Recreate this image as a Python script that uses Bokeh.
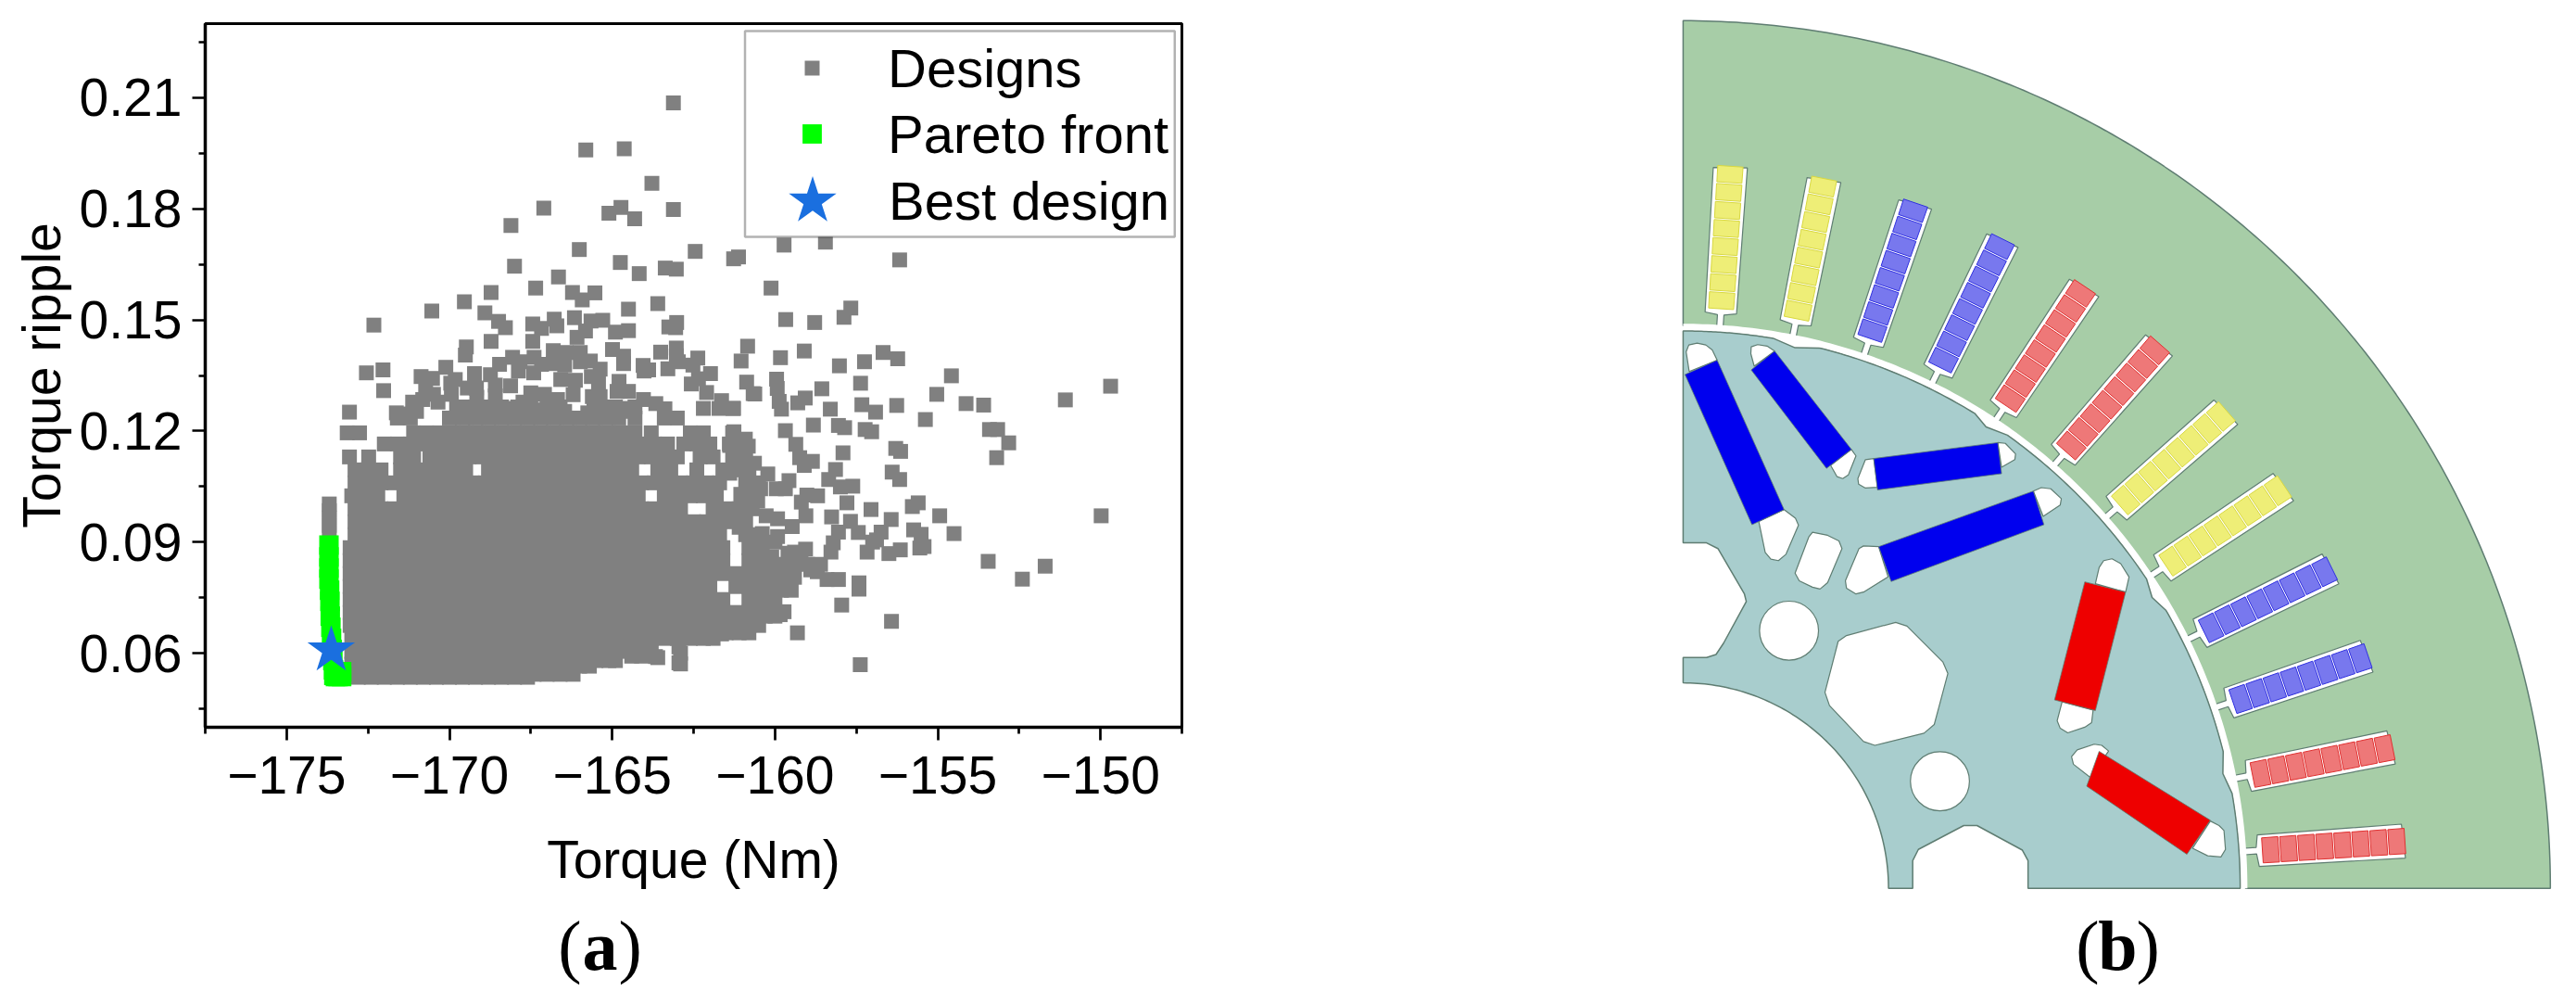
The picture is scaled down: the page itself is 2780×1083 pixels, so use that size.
from bokeh.plotting import figure
from bokeh.models import (Range1d, FixedTicker, Legend, LegendItem, BoxAnnotation, Label)
from bokeh.layouts import row, column
from bokeh.embed import file_html
from bokeh.resources import INLINE
import numpy as np

# ---------------- panel (a): values ----------------
sparse_torque = [-163.12,-165.81,-164.63,-163.78,-167.10,-165.10,-164.73,-164.31,-163.12,-168.11,-166.01,-164.75,-168.00,-162.45,-164.17,-163.37,-163.03,-161.27,-161.12,-166.65,-167.35,-168.72,-169.54,-170.54,-172.32,-166.22,-165.53,-165.92,-168.91,-168.49,-168.28,-167.44,-166.78,-166.70,-167.17,-166.16,-165.65,-165.29,-164.50,-163.60,-163.02,-163.26,-163.05,-164.90,-164.50,-165.82,-166.08,-167.44,-168.72,-169.48,-169.51,-160.84,-161.04,-164.99,-163.51,-163.03,-163.03,-164.65,-164.65,-162.37,-162.97,-162.52,-164.05,-163.88,-164.02,-163.29,-161.98,-162.35,-162.57,-160.87,-160.67,-162.10,-161.64,-162.2,-161.27,-161.72,-164.79,-164.85,-164.50,-164.04,-163.66,-163.38,-164.61,
 -168.06,-167.40,-168.46,-167.83,-167.17,-166.81,-166.81,-166.41,-165.98,-166.46,-165.98,-165.67,-165.37,-167.88,-167.41,-166.58,-166.13,-165.64,-165.42,-170.11,-170.87,-170.52,-169.23,-168.74,-169.96,-169.82,-169.45,-169.17,-168.59,-168.12,-170.73,-170.49,-169.94,-171.13,-170.82,-170.35,-169.16,-168.59,-167.50,-167.08,-167.74,-166.68,-166.20,-165.61,-165.37,-165.56,-171.63,-171.34,-171.01,-169.78,-169.26,-168.59,-168.03,-167.36,-166.46,-165.75,-164.61,-172.02,-172.04,-172.55,-173.07]
sparse_ripple = [.2086,.1959,.1962,.1869,.1802,.1788,.1804,.1773,.1798,.1755,.1690,.1655,.1645,.1685,.1625,.1640,.1637,.1665,.1670,.1616,.1586,.1574,.1549,.1524,.1486,.1574,.1573,.1554,.1519,.1496,.1479,.1489,.1502,.1484,.1477,.1506,.1497,.1499,.1529,.1544,.1493,.1481,.1479,.1467,.1471,.1470,.1453,.1442,.1442,.1427,.1405,.1429,.1389,.1420,.1413,.1424,.1403,.1402,.1382,.1397,.1387,.1378,.1377,.1365,.1362,.1368,.1355,.1341,.1327,.1332,.1301,.1304,.1282,.1261,.1261,.1261,.1334,.1307,.1307,.1285,.1274,.1260,.1261,
 .1399,.1399,.1380,.1387,.1380,.1417,.1382,.1412,.1412,.1378,.1387,.1389,.1367,.1362,.1357,.1339,.1337,.1347,.1332,.1372,.1347,.1342,.1355,.1352,.1329,.1339,.1316,.1316,.1324,.1322,.1316,.1299,.1299,.1278,.1285,.1278,.1291,.1295,.1303,.1299,.1278,.1285,.1298,.1293,.1293,.1270,.1249,.1246,.1253,.1261,.1261,.1253,.1261,.1257,.1253,.1249,.1253,.1309,.1365,.1357,.1251]

right_torque = [-159.72,-158.45,-156.17,-160.12,-159.67,-158.78,-157.67,-157.88,-159.10,-159.83,-158.02,-157.25,-156.68,-156.23,-154.58,-157.37,-159.95,-159.93,-160.62,-158.56,-159.07,-159.30,-159.87,-159.80,-158.30,-157.33,-156.91,-156.26,-155.03,-154.13,-153.59,-151.08,-149.69,-155.38,-158.82,-158.05,-157.86,-157.23,-157.03,-159.68,-153.41,-153.16,-152.82,-153.19,-156.29,-156.14,-157.91,-159.36,-159.24,-158.85,-159.10,-158.14,-156.40,-156.17,-158.35,-157.99,-157.61,-161.26,-160.91,-160.82,-161.29,-161.39,-160.63,-161.29,-161.39,-160.82,-160.22,-159.57,-160.44,-159.96,-159.68,-161.05,-160.53,-159.02,-158.69,-159.19,-157.79,-157.05,-155.78,-155.60,-154.94,-149.98,-158.26,-159.05,-157.68,-156.43,-160.27,-159.92,-159.47,-161.10,-161.10,-158.05,-157.44,-156.74,-156.88,-155.74,-155.51,-154.50,-155.42,-155.55,-160.39,-160.39,-159.92,-158.21,-159.06,-159.40,-157.17,-156.15,-156.50,-158.28,-153.45,
 -151.70,-152.40,-157.95,-157.42,-157.42,-156.42,-159.31,-157.38,-157.0,-158.4,-158.05,-158.9,-159.36,-159.6,-159.72,-159.84,-160.3,-160.56,-161.16,-161.64,-162.2,-162.95,-162.95,-163.67,-160.1,-160.2,-159.9,-160.5,-160.0,-159.6,-160.7,-160.4,-160.1,-159.2,-158.7]
right_ripple = [.1702,.1710,.1662,.1586,.1501,.1493,.1532,.1507,.1416,.1398,.1376,.1387,.1412,.1395,.1349,.1329,.1340,.1315,.1300,.1314,.1289,.1276,.1280,.1259,.1259,.1271,.1251,.1269,.1299,.1274,.1270,.1284,.1321,.1231,.1216,.1215,.1209,.1204,.1198,.1201,.1204,.1204,.1168,.1128,.1153,.1145,.1141,.1164,.1128,.1118,.1107,.1096,.1089,.1069,.1069,.1049,.1051,.1198,.1178,.1159,.1261,.1161,.1113,.1119,.1086,.1086,.1084,.1066,.1044,.1044,.1044,.1029,.1011,.1027,.1025,.1008,.1006,.0988,.0996,.1006,.0971,.0971,.0968,.0971,.0956,.0961,.0971,.0963,.0942,.0969,.0940,.0927,.0926,.0927,.0906,.0933,.0921,.0923,.0888,.0884,.0923,.0894,.0915,.0898,.0881,.0873,.0873,.0879,.0869,.0873,.0848,
 .0835,.0800,.0730,.0773,.0790,.0686,.0655,.0569,.0900,.0799,.0799,.0825,.0842,.0790,.0712,.0704,.0755,.0729,.0678,.0652,.0660,.0574,.0617,.0591,.0860,.0810,.0780,.0840,.0900,.0870,.0780,.0745,.0720,.0860,.0820]

tail_torque = [-160.2,-159.8,-159.4,-159.0,-158.6,-160.2,-159.8,-159.4,-160.2,-159.8,-159.5,-160.3,-160.0,-160.3,-160.0]
tail_ripple = [.0840,.0840,.0840,.0840,.0840,.0805,.0805,.0805,.0770,.0770,.0770,.0735,.0735,.0700,.0700]

stalk_torque = [-173.69,-173.69,-173.69,-173.69,-173.69]
stalk_ripple = [.1003,.0985,.0965,.0945,.0925]

edge_torque = [-169.0,-168.6,-168.2,-167.8,-167.4,-167.0,-166.6,-166.2,-167.2,-166.8,-166.4,-166.0,-165.7,-165.5,-165.1,-164.9,-164.4,-164.1,-163.6,-162.9,-162.9]
edge_ripple = [.0543,.0543,.0543,.0543,.0543,.0543,.0543,.0543,.0550,.0550,.0550,.0565,.0565,.0580,.0580,.0580,.0592,.0592,.0588,.0571,.0600]

row_0535 = [-172.8,-172.4,-172.0,-171.6,-171.2,-170.8,-170.4,-170.0,-169.6,-169.2,-168.8,-168.4,-168.0,-167.6]
row_0570 = [-173.0,-172.6,-172.2,-171.8,-171.4,-171.0,-170.6,-170.2,-169.8,-169.4,-169.0,-168.6,-168.2,-167.8,-167.4,-167.0,-166.6,-166.2,-165.9]
row_0605 = [-173.0,-172.6,-172.2,-171.8,-171.4,-171.0,-170.6,-170.2,-169.8,-169.4,-169.0,-168.6,-168.2,-167.8,-167.4,-167.0,-166.6,-166.2,-165.8,-165.4,-165.0,-164.6,-164.2,-163.8]
row_0640 = [-173.0,-172.6,-172.2,-171.8,-171.4,-171.0,-170.6,-170.2,-169.8,-169.4,-169.0,-168.6,-168.2,-167.8,-167.4,-167.0,-166.6,-166.2,-165.8,-165.4,-165.0,-164.6,-164.2,-163.8,-163.4,-163.0,-162.6,-162.2,-161.9]
row_0655 = [-161.5,-161.1,-160.8]
row_0675 = [-173.05,-172.8,-172.4,-172.0,-171.6,-171.2,-170.8,-170.4,-170.0,-169.6,-169.2,-168.8,-168.4,-168.0,-167.6,-167.2,-166.8,-166.4,-166.0,-165.6,-165.2,-164.8,-164.4,-164.0,-163.6,-163.2,-162.8,-162.4,-162.0,-161.6,-161.2,-160.8,-160.5]
row_0710 = [-173.05,-172.8,-172.4,-172.0,-171.6,-171.2,-170.8,-170.4,-170.0,-169.6,-169.2,-168.8,-168.4,-168.0,-167.6,-167.2,-166.8,-166.4,-166.0,-165.6,-165.2,-164.8,-164.4,-164.0,-163.6,-163.2,-162.8,-162.4,-162.0,-161.6,-161.2,-160.8,-160.5]
row_0745 = [-173.05,-172.8,-172.4,-172.0,-171.6,-171.2,-170.8,-170.4,-170.0,-169.6,-169.2,-168.8,-168.4,-168.0,-167.6,-167.2,-166.8,-166.4,-166.0,-165.6,-165.2,-164.8,-164.4,-164.0,-163.6,-163.2,-162.8,-162.4,-162.0,-161.6,-160.8,-160.5]
row_0780 = [-173.05,-172.8,-172.4,-172.0,-171.6,-171.2,-170.8,-170.4,-170.0,-169.6,-169.2,-168.8,-168.4,-168.0,-167.6,-167.2,-166.8,-166.4,-166.0,-165.6,-165.2,-164.8,-164.4,-164.0,-163.6,-163.2,-162.8,-162.4,-162.0,-161.2,-160.8,-160.5]
row_0815 = [-173.05,-172.8,-172.4,-172.0,-171.6,-171.2,-170.8,-170.4,-170.0,-169.6,-169.2,-168.8,-168.4,-168.0,-167.6,-167.2,-166.8,-166.4,-166.0,-165.6,-165.2,-164.8,-164.4,-164.0,-163.6,-163.2,-162.8,-162.4,-162.0,-161.6,-161.2,-160.8,-160.5]
row_0850 = [-173.05,-172.8,-172.4,-172.0,-171.6,-171.2,-170.8,-170.4,-170.0,-169.6,-169.2,-168.8,-168.4,-168.0,-167.6,-167.2,-166.8,-166.4,-166.0,-165.6,-165.2,-164.8,-164.4,-164.0,-163.6,-163.2,-162.8,-162.4,-162.0,-161.6,-160.8,-160.5]
row_0885 = [-173.05,-172.8,-172.4,-172.0,-171.6,-171.2,-170.8,-170.4,-170.0,-169.6,-169.2,-168.8,-168.4,-168.0,-167.6,-167.2,-166.8,-166.4,-166.0,-165.6,-165.2,-164.8,-164.4,-164.0,-163.6,-163.2,-162.8,-162.4,-162.0,-161.6,-160.8,-160.5]
row_0920 = [-172.9,-172.5,-172.1,-171.7,-171.3,-170.9,-170.5,-170.1,-169.7,-169.3,-168.9,-168.5,-168.1,-167.7,-167.3,-166.9,-166.5,-166.1,-165.7,-165.3,-164.9,-164.5,-164.1,-163.7,-163.3,-162.9,-162.5,-162.1,-161.7,-160.9,-160.5]
row_0955 = [-172.9,-172.5,-172.1,-171.7,-171.3,-170.9,-170.5,-170.1,-169.7,-169.3,-168.9,-168.5,-168.1,-167.7,-167.3,-166.9,-166.5,-166.1,-165.7,-165.3,-164.9,-164.5,-164.1,-163.7,-163.3,-162.9,-162.5,-162.1,-161.7,-161.3,-160.9]
row_0990 = [-172.9,-172.5,-172.1,-171.7,-171.3,-170.9,-170.5,-170.1,-169.7,-169.3,-168.9,-168.5,-168.1,-167.7,-167.3,-166.9,-166.5,-166.1,-165.7,-165.3,-164.9,-164.5,-164.1,-163.7,-163.3,-162.9,-161.9,-161.5,-161.1,-160.7]
row_1025 = [-173.0,-172.6,-172.2,-171.4,-171.0,-170.6,-170.2,-169.8,-169.4,-169.0,-168.6,-168.2,-167.8,-167.4,-167.0,-166.6,-166.2,-165.8,-165.4,-165.0,-164.6,-164.2,-163.4,-163.0,-162.6,-162.2,-161.8,-161.0,-160.6]
row_1060 = [-172.9,-172.5,-172.1,-171.7,-171.3,-170.9,-170.5,-170.1,-169.7,-169.3,-168.9,-168.5,-168.1,-167.7,-167.3,-166.9,-166.5,-166.1,-165.7,-165.3,-164.9,-164.5,-164.1,-163.7,-163.3,-162.9,-162.5,-162.1,-161.7,-160.9,-160.5]
row_1095 = [-172.9,-172.5,-172.1,-171.5,-171.1,-170.7,-170.3,-169.9,-169.5,-168.8,-168.4,-168.0,-167.6,-167.2,-166.8,-166.4,-166.0,-165.6,-165.2,-164.8,-164.4,-163.6,-163.2,-162.4,-161.6,-161.2,-160.8]
row_1130 = [-173.07,-172.48,-171.5,-171.1,-170.6,-170.2,-169.8,-169.4,-169.0,-168.6,-168.2,-167.8,-167.4,-167.0,-166.6,-166.2,-165.8,-165.4,-165.0,-164.6,-164.2,-163.8,-163.4,-163.0,-162.3,-161.9,-161.3,-160.9]
row_1165 = [-172.0,-171.6,-171.2,-170.9,-170.5,-170.1,-169.7,-169.3,-168.9,-168.5,-168.1,-167.7,-167.3,-166.9,-166.5,-166.1,-165.7,-165.3,-164.9,-164.5,-164.1,-163.7,-163.3,-162.8,-162.4,-162.0,-161.4,-161.0]
row_1195 = [-173.14,-172.76,-171.1,-170.7,-170.3,-169.9,-169.5,-169.1,-168.7,-168.3,-167.9,-167.5,-167.1,-166.7,-166.3,-165.9,-165.5,-165.1,-164.7,-164.3,-163.8,-162.6,-162.2,-161.3]
row_1235 = [-171.6,-171.2,-170.0,-169.6,-169.2,-168.8,-168.4,-168.0,-167.6,-167.2,-166.8,-166.4,-166.0,-165.6,-165.2,-164.8,-164.3,-163.4,-163.0]
row_1265 = [-169.6,-169.2,-168.8,-168.4,-167.9,-167.5,-167.0,-166.6,-165.3,-164.9,-164.3]

dense_rows = [(.0535,row_0535),(.0570,row_0570),(.0605,row_0605),(.0640,row_0640),(.0655,row_0655),(.0675,row_0675),
              (.0710,row_0710),(.0745,row_0745),(.0780,row_0780),(.0815,row_0815),(.0850,row_0850),(.0885,row_0885),
              (.0920,row_0920),(.0955,row_0955),(.0990,row_0990),(.1025,row_1025),(.1060,row_1060),(.1095,row_1095),
              (.1130,row_1130),(.1165,row_1165),(.1195,row_1195),(.1235,row_1235),(.1265,row_1265)]

pareto_torque = [-173.70,-173.70,-173.70,-173.70,-173.68,-173.67,-173.66,-173.64,-173.62,-173.60,-173.58,-173.56,-173.55,-173.50,-173.42,-173.31,-173.31]
pareto_ripple = [.0892,.0860,.0830,.0800,.0770,.0740,.0700,.0670,.0640,.0610,.0580,.0555,.0540,.0537,.0537,.0537,.0550]
best_torque = [-173.63]
best_ripple = [.0608]

x_major = [-175,-170,-165,-160,-155,-150]
x_minor = [-177.5,-172.5,-167.5,-162.5,-157.5,-152.5,-147.5]
y_major = [.06,.09,.12,.15,.18,.21]
y_minor = [.045,.075,.105,.135,.165,.195,.225]
x_labels = {-175:"\u2212175",-170:"\u2212170",-165:"\u2212165",-160:"\u2212160",-155:"\u2212155",-150:"\u2212150"}
y_labels = {.06:"0.06",.09:"0.09",.12:"0.12",.15:"0.15",.18:"0.18",.21:"0.21"}

GRAY, GREEN, STAR = "#808080", "#00ff00", "#1a6fdf"
SANS = "Liberation Sans"
SERIF = "Liberation Serif"

designs_torque = sparse_torque + right_torque + tail_torque + stalk_torque + edge_torque
designs_ripple = sparse_ripple + right_ripple + tail_ripple + stalk_ripple + edge_ripple
for r_val, torques in dense_rows:
    designs_torque = designs_torque + torques
    designs_ripple = designs_ripple + [r_val]*len(torques)

p = figure(width=1408, height=970, output_backend="svg", toolbar_location=None, frame_align=False,
           x_range=Range1d(-177.5,-147.5), y_range=Range1d(.04,.23),
           min_border_left=221, min_border_top=25, min_border_bottom=186, min_border_right=133,
           background_fill_color="white", border_fill_color="white")
p.grid.visible = False
p.outline_line_color = "black"; p.outline_line_width = 3
rg = p.scatter(designs_torque, designs_ripple, marker="square", size=16, fill_color=GRAY, line_color=None)
rp = p.scatter(pareto_torque, pareto_ripple, marker="square", size=21, fill_color=GREEN, line_color=None)
rs = p.scatter(best_torque, best_ripple, marker="star", size=54, fill_color=STAR, line_color=None)

p.xaxis.ticker = FixedTicker(ticks=x_major, minor_ticks=x_minor)
p.yaxis.ticker = FixedTicker(ticks=y_major, minor_ticks=y_minor)
p.xaxis.major_label_overrides = x_labels
p.yaxis.major_label_overrides = y_labels
p.xaxis.axis_label = "Torque (Nm)"
p.yaxis.axis_label = "Torque ripple"
for ax in (p.xaxis[0], p.yaxis[0]):
    ax.axis_line_color = "black"; ax.axis_line_width = 3.5
    ax.major_tick_line_color = "black"; ax.minor_tick_line_color = "black"
    ax.major_tick_line_width = 2.7; ax.minor_tick_line_width = 2.7
    ax.major_tick_in = 0; ax.major_tick_out = 14
    ax.minor_tick_in = 0; ax.minor_tick_out = 7
    ax.major_label_text_font = SANS; ax.major_label_text_font_size = "57px"; ax.major_label_text_color = "black"
    ax.axis_label_text_font = SANS; ax.axis_label_text_font_size = "57px"
    ax.axis_label_text_font_style = "normal"; ax.axis_label_text_color = "black"
p.yaxis.major_label_orientation = "horizontal"
p.xaxis.major_label_standoff = 17
p.yaxis.major_label_standoff = 11
p.xaxis.axis_label_standoff = 36
p.yaxis.axis_label_standoff = 6

box = BoxAnnotation(left=-160.92, right=-147.72, top=.228, bottom=.1724, fill_color="white", fill_alpha=1,
                    line_color="black", line_width=2.5)
p.add_layout(box)

def key(label, rend, vx, vy, gw, gh, standoff):
    leg = Legend(items=[LegendItem(label=label, renderers=[rend])], location=(vx, vy), glyph_width=gw, glyph_height=gh,
                 padding=0, margin=0, spacing=0, border_line_color=None, background_fill_alpha=0, label_standoff=standoff,
                 label_height=80, label_text_font=SANS, label_text_font_size="58px", label_text_color="black")
    p.add_layout(leg)

key("Designs", rg, 591, 671, 128, 40, 18)
key("Pareto front", rp, 591, 600, 128, 52, 18)
key("Best design", rs, 588, 500, 135, 135, 15)

def paren_label(fig, cx, by, letter):
    fig.add_layout(Label(x=cx-20, y=by, x_units="screen", y_units="screen", text="(", text_font=SERIF, text_font_size="76px", text_align="right", text_color="black"))
    fig.add_layout(Label(x=cx, y=by, x_units="screen", y_units="screen", text=letter, text_font=SERIF, text_font_style="bold", text_font_size="76px", text_align="center", text_color="black"))
    fig.add_layout(Label(x=cx+20, y=by, x_units="screen", y_units="screen", text=")", text_font=SERIF, text_font_size="76px", text_align="left", text_color="black"))

strip = figure(width=1408, height=105, output_backend="svg", toolbar_location=None, frame_align=False,
               x_range=Range1d(0, 1), y_range=Range1d(0, 1), min_border=0, x_axis_type=None, y_axis_type=None,
               outline_line_color=None, background_fill_color="white", border_fill_color="white")
strip.grid.visible = False
paren_label(strip, 647, 14, "a")

# ---------------- panel (b): motor cross-section, sketch units ----------------
CX, CY = 88.0, 1538.0
U = 2.45
R_STATOR_OUT, R_STATOR_IN, R_ROTOR, R_SHAFT = 2293.0, 1487.0, 1473.0, 543.0
STATOR_FILL, ROTOR_FILL, EDGE = "#a7cda7", "#a8cdcd", "#5f7d72"

slot_angles = [3.75,11.25,18.75,26.25,33.75,41.25,48.75,56.25,63.75,71.25,78.75,86.25]
slot_phases = ["y","y","b","b","r","r","y","y","b","b","r","r"]
coil_fill = {"y":"#eeee77","b":"#7878ee","r":"#ee7878"}
coil_edge = {"y":"#d8d840","b":"#3030e0","r":"#e03030"}

magnets_blue = [
    [(93,180),(178,142),(355,537),(270,577)],
    [(268,168),(330,118),(533,378),(467,428)],
    [(592,402),(920,360),(930,442),(602,485)],
    [(605,635),(1014,488),(1042,577),(638,727)],
]
magnets_red = [
    [(1150,728),(1258,755),(1178,1068),(1070,1040)],
    [(1188,1176),(1482,1358),(1420,1448),(1155,1268)],
]
pockets = [
    [(104,172),(178,142),(165,115),(148,102),(125,97),(103,102),(96,120)],
    [(276,158),(330,118),(310,105),(285,101),(268,107),(267,125)],
    [(288,568),(355,537),(385,560),(393,578),(360,655),(340,672),(320,668),(305,650)],
    [(478,420),(533,378),(545,395),(525,445),(510,455),(495,450)],
    [(592,402),(602,478),(570,480),(552,470),(550,455),(570,405)],
    [(920,360),(930,425),(965,405),(967,390),(940,362)],
    [(605,635),(630,715),(565,755),(545,760),(520,745),(517,725),(553,640),(565,633)],
    [(1014,488),(1040,555),(1085,525),(1088,508),(1060,482),(1035,479)],
    [(1178,733),(1258,755),(1267,715),(1245,680),(1222,667),(1200,672),(1188,690)],
    [(1090,1045),(1172,1067),(1168,1100),(1150,1112),(1105,1127),(1085,1115),(1077,1095)],
    [(1213,1175),(1165,1245),(1120,1210),(1115,1190),(1130,1172),(1175,1157),(1195,1160)],
    [(1482,1360),(1435,1432),(1475,1452),(1510,1455),(1522,1435),(1518,1385),(1505,1372)],
    [(430,597),(470,605),(500,620),(508,640),(470,730),(450,747),(430,742),(395,725),(384,705),(420,610)],
    [(520,870),(650,835),(680,845),(775,940),(788,970),(752,1105),(725,1128),(595,1160),(565,1150),(475,1055),(463,1020),(498,885)],
]
hole_circles = [(368,857,78),(767,1255,78)]
left_notch = [(88,625),(150,625),(180,640),(250,760),(255,780),(195,890),(175,920),(150,928),(88,928)]
bottom_notch = [(1000,1538),(1000,1465),(985,1437),(865,1372),(830,1372),(710,1435),(695,1465),(695,1538)]
rotor_notches = [(9.3,11.7,14.2),(31.6,33.3,35.6),(56.3,58.2,60.1),(75.8,78.0,80.2)]

def polar(r, deg):
    a = np.radians(deg)
    return CX + r*np.sin(a), CY - r*np.cos(a)

def arc(r, a0, a1, n=90):
    xs, ys = polar(r, np.linspace(a0, a1, n))
    return list(zip(xs.tolist(), ys.tolist()))

def pxy(pts):
    return [float(q_[0]) for q_ in pts], [float(q_[1]) for q_ in pts]

def local(theta, pts):
    a = np.radians(theta)
    d = np.array([np.sin(a), -np.cos(a)])
    t = np.array([np.cos(a), np.sin(a)])
    return [tuple(np.array([CX, CY]) + U*(u*d + v*t)) for u, v in pts]

q = figure(width=1364, height=1075, output_backend="svg", toolbar_location=None, frame_align=False,
           x_range=Range1d((1408-1780)*U, (2772-1780)*U), y_range=Range1d((1075-330)*U, (0-330)*U),
           min_border=0, x_axis_type=None, y_axis_type=None, outline_line_color=None,
           background_fill_color="white", border_fill_color="white")
q.grid.visible = False

stator = arc(R_STATOR_OUT, 0, 90, 180) + arc(R_STATOR_IN, 90, 0, 180)
q.patch(*pxy(stator), fill_color=STATOR_FILL, line_color=EDGE, line_width=1.5)

rotor = []
prev = 0.0
for a0, am, a1 in rotor_notches:
    rotor += arc(R_ROTOR, prev, a0, 40)
    rotor.append(polar(R_ROTOR-14, am))
    prev = a1
rotor += arc(R_ROTOR, prev, 90, 30)
rotor += [(float(x), float(y)) for x, y in bottom_notch]
rotor += arc(R_SHAFT, 90, 0, 90)
rotor += [(float(x), float(y)) for x, y in left_notch[::-1]]
q.patch(*pxy(rotor), fill_color=ROTOR_FILL, line_color=EDGE, line_width=1.5)

white_xs, white_ys = [], []
for pts in pockets:
    x_, y_ = pxy(pts); white_xs.append(x_); white_ys.append(y_)
q.patches(white_xs, white_ys, fill_color="white", line_color=EDGE, line_width=1.2)
cx_ = [c[0] for c in hole_circles]; cy_ = [c[1] for c in hole_circles]; cr_ = [c[2] for c in hole_circles]
q.circle(cx_, cy_, radius=cr_, fill_color="white", line_color=EDGE, line_width=1.2)

for group, col in ((magnets_blue, "#0000ee"), (magnets_red, "#ee0000")):
    q.patches([pxy(m)[0] for m in group], [pxy(m)[1] for m in group], fill_color=col, line_color=EDGE, line_width=0.8)

slot_shape = [(604,-3.5),(620,-3.5),(622,-17),(778,-18.4),(780,18.4),(622,17),(620,3.5),(604,3.5)]
sx, sy = [], []
for th in slot_angles:
    x_, y_ = pxy(local(th, slot_shape)); sx.append(x_); sy.append(y_)
q.patches(sx, sy, fill_color="white", line_color=EDGE, line_width=1.2)

# white gap over the neck ends, so that the air gap stays open
gap = arc(R_STATOR_IN+5, 0, 90, 180) + arc(R_ROTOR+3, 90, 0, 180)
q.patch(*pxy(gap), fill_color="white", line_color=None)

for phase in "ybr":
    cxs, cys = [], []
    for th, ph in zip(slot_angles, slot_phases):
        if ph != phase:
            continue
        for k in range(8):
            u0 = 626.5 + k*19.5
            shape = [(u0, -13.5), (u0+17.6, -13.7), (u0+17.6, 13.7), (u0, 13.5)]
            x_, y_ = pxy(local(th, shape)); cxs.append(x_); cys.append(y_)
    q.patches(cxs, cys, fill_color=coil_fill[phase], line_color=coil_edge[phase], line_width=1)

paren_label(q, 2285-1408, 14, "b")

open("out.html", "w").write(file_html(row(column(p, strip), q), INLINE))
